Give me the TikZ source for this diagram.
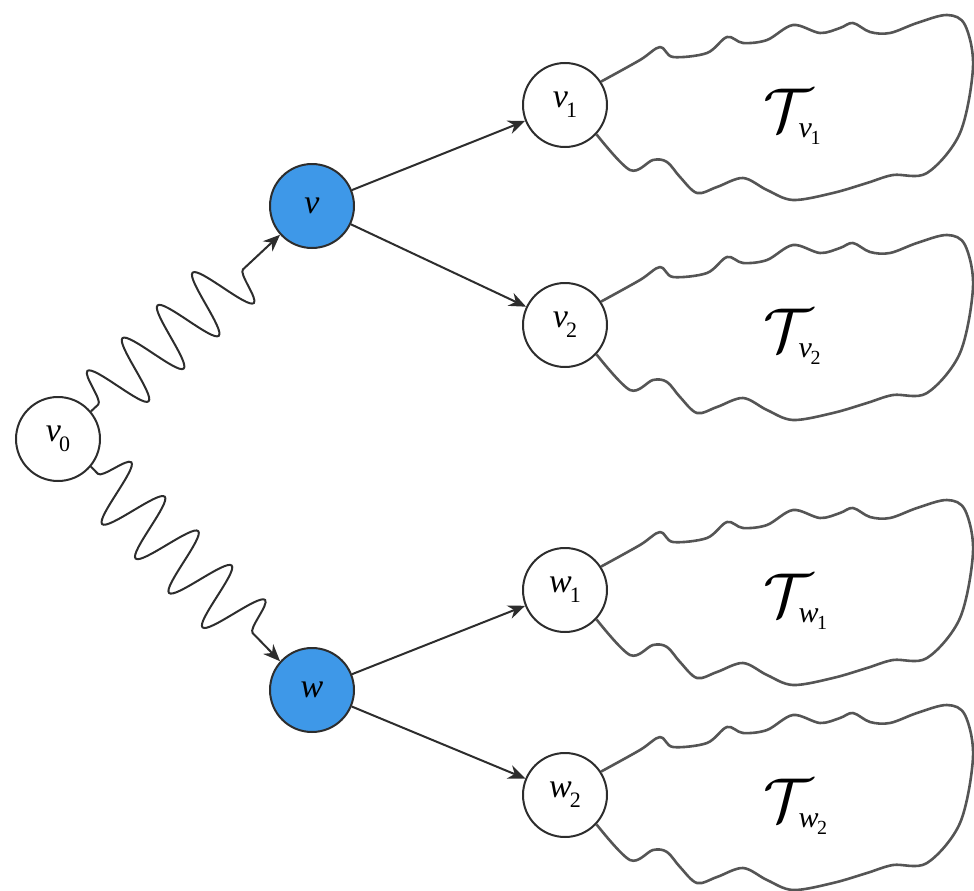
\documentclass[tikz,border=0pt]{standalone}
\usepackage{fontspec}
\setmainfont{Liberation Serif}
\usetikzlibrary{arrows.meta,decorations.pathmorphing}
\definecolor{nodeblue}{RGB}{62,152,232}
\definecolor{edgec}{RGB}{45,45,45}
\definecolor{blobc}{RGB}{85,85,85}
\newcommand{\lbl}[2]{{\itshape #1}\kern-0.05em\raisebox{-0.3em}{\fontsize{22}{22}\selectfont #2}}
\newcommand{\tlbl}[2]{\scalebox{6.2}{$\mathcal{T}$}\kern-14pt\raisebox{-0.55em}{\fontsize{30}{30}\selectfont\itshape #1\kern-0.05em\raisebox{-0.25em}{\fontsize{20}{20}\selectfont\upshape #2}}}
\tikzset{
  vert/.style={circle,draw=edgec,line width=2pt,minimum size=84pt,inner sep=0pt,font=\fontsize{34}{34}\selectfont},
  hot/.style={vert,fill=nodeblue},
  arr/.style={draw=edgec,line width=2pt,-{Stealth[length=17pt,width=14pt]}},
  wavy/.style={arr,decorate,decoration={snake,amplitude=32pt,segment length=48pt,pre length=10pt,post length=30pt}},
  blobline/.style={draw=blobc,line width=2.6pt,line join=round},
  tlabel/.style={inner sep=0pt,anchor=west}
}
\newcommand{\treeblob}[3]{%
  \begin{scope}[shift={(#1.center)}]
  \draw[blobline] plot[smooth,tension=0.55] coordinates{(#1.33) (75,-45) (95,-58) (108,-48) (142,-52) (162,-68) (178,-62) (202,-65) (228,-80) (255,-72) (275,-77) (288,-82) (305,-73) (325,-72) (352,-82) (382,-90) (400,-80) (408,-38) (395,28) (362,68) (328,70) (302,78) (268,88) (228,95) (202,85) (178,73) (152,82) (132,88) (115,72) (102,57) (88,55) (65,65) (#1.-43)};
  \node[tlabel] (#2) at (198,12) {#3};
  \end{scope}}
\begin{document}
\begin{tikzpicture}[x=1pt,y=-1pt]
\useasboundingbox (0,0) rectangle (974,891);
\node[vert] (v0) at (58,439) {\lbl{v}{0}};
\node[hot] (v) at (312,206) {\itshape v};
\node[hot] (w) at (312,690) {\itshape w};
\node[vert] (v1) at (565,105) {\lbl{v}{1}};
\node[vert] (v2) at (565,325) {\lbl{v}{2}};
\node[vert] (w1) at (565,590) {\lbl{w}{1}};
\node[vert] (w2) at (565,795) {\lbl{w}{2}};
\draw[wavy] (v0.40) -- (v.222);
\draw[wavy] (v0.-40) -- (w.138);
\draw[arr] (v) -- (v1);
\draw[arr] (v) -- (v2);
\draw[arr] (w) -- (w1);
\draw[arr] (w) -- (w2);
\treeblob{v1}{tv1}{\tlbl{v}{1}}
\treeblob{v2}{tv2}{\tlbl{v}{2}}
\treeblob{w1}{tw1}{\tlbl{w}{1}}
\treeblob{w2}{tw2}{\tlbl{w}{2}}
\end{tikzpicture}
\end{document}
